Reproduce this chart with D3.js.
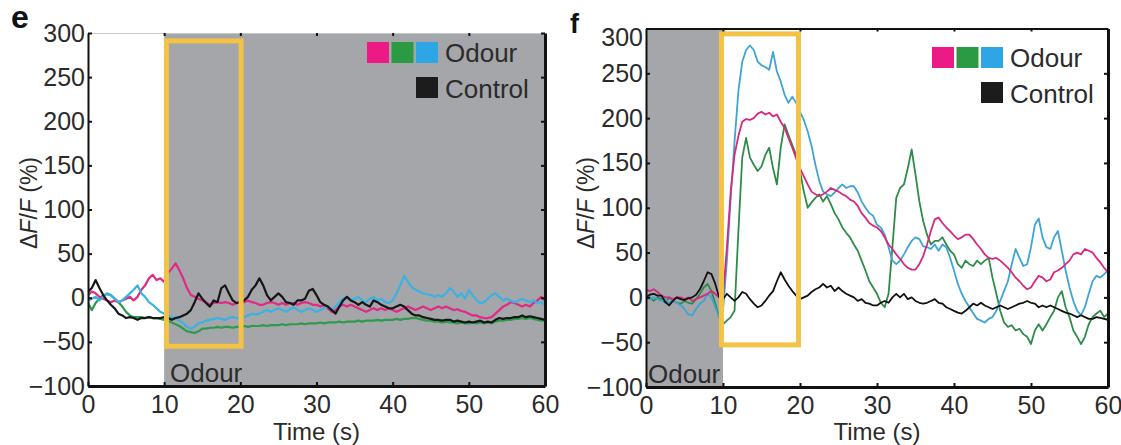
<!DOCTYPE html>
<html>
<head>
<meta charset="utf-8">
<script src="https://cdn.jsdelivr.net/npm/d3@7"></script>
<style>
  body { margin: 0; background: #fff; }
  svg { display: block; font-family: "Liberation Sans", Arial, Helvetica, sans-serif; }
</style>
</head>
<body>
<svg id="chart" width="1121" height="445"></svg>
<script>
// sample times (s)
const time = [0,0.5,1,1.5,2,2.5,3,3.5,4,4.5,5,5.5,6,6.5,7,7.5,8,8.5,9,9.5,
  10,10.5,11,11.5,12,12.5,13,13.5,14,14.5,15,15.5,16,16.5,17,17.5,18,18.5,19,19.5,
  20,20.5,21,21.5,22,22.5,23,23.5,24,24.5,25,25.5,26,26.5,27,27.5,28,28.5,29,29.5,
  30,30.5,31,31.5,32,32.5,33,33.5,34,34.5,35,35.5,36,36.5,37,37.5,38,38.5,39,39.5,
  40,40.5,41,41.5,42,42.5,43,43.5,44,44.5,45,45.5,46,46.5,47,47.5,48,48.5,49,49.5,
  50,50.5,51,51.5,52,52.5,53,53.5,54,54.5,55,55.5,56,56.5,57,57.5,58,58.5,59,59.5,60];

// panel e, dF/F (%)
const eControl = [7,11,20,11,3,-3,-8,-12,-18,-20,-23,-22,-23,-25,-23,-23,-22,-23,-23,-23,
  -22,-23,-25,-23,-22,-20,-18,-14,-5,5,-1,-6,-10,-3,-5,11,14,5,-3,-6,
  -5,-3,1,9,14,22,14,3,-3,1,5,1,-5,-6,-8,-3,-3,-1,8,10,
  3,-5,-8,-10,-14,-18,-10,-3,1,-3,-5,-8,-5,-8,-10,-3,-5,-8,-10,-12,
  -12,-10,-8,-10,-14,-18,-20,-20,-22,-23,-24,-25,-25,-26,-25,-25,-27,-26,-27,-28,
  -27,-28,-27,-26,-28,-27,-28,-25,-23,-24,-23,-23,-22,-22,-20,-22,-21,-22,-23,-24,-25];
const ePink = [3,7,5,1,-1,-3,-5,-3,-5,-3,-1,1,-3,1,9,14,22,26,20,22,
  18,28,33,39,31,22,11,3,1,-1,-3,-5,-8,-6,-5,-6,-5,-6,-8,-6,
  -5,-5,-3,-5,-6,-8,-8,-6,-5,-6,-8,-6,-8,-6,-6,-8,-6,-5,-6,-8,
  -8,-10,-8,-12,-16,-14,-10,-8,-10,-8,-10,-12,-14,-16,-14,-12,-14,-12,-14,-12,
  -14,-16,-14,-12,-10,-12,-14,-12,-10,-12,-14,-12,-10,-12,-10,-12,-14,-13,-15,-16,
  -18,-20,-20,-22,-23,-23,-22,-18,-14,-10,-8,-5,-6,-8,-10,-8,-10,-6,-3,1,-3];
const eGreen = [-6,-14,-6,-1,3,4,3,-1,-5,-10,-16,-20,-22,-22,-22,-23,-22,-23,-23,-24,
  -25,-26,-28,-30,-32,-35,-38,-39,-40,-38,-35,-35,-34,-34,-33,-34,-33,-33,-34,-33,
  -33,-32,-33,-32,-32,-32,-31,-32,-31,-31,-31,-30,-31,-30,-30,-30,-29,-30,-29,-29,
  -29,-28,-29,-28,-28,-28,-27,-28,-27,-27,-27,-26,-27,-26,-26,-26,-25,-26,-25,-25,
  -25,-24,-25,-24,-24,-23,-23,-24,-25,-26,-26,-27,-27,-28,-27,-28,-28,-29,-28,-29,
  -29,-28,-29,-28,-29,-28,-29,-27,-26,-26,-25,-25,-24,-24,-23,-24,-23,-24,-25,-26,-26];
const eBlue = [-3,-1,1,-3,1,5,3,-1,-5,-3,1,5,9,14,5,1,-5,-8,-12,-16,
  -18,-20,-22,-23,-26,-29,-33,-35,-33,-29,-28,-26,-25,-24,-23,-24,-25,-23,-22,-23,
  -23,-22,-20,-18,-19,-18,-16,-14,-16,-14,-12,-14,-16,-13,-11,-14,-16,-14,-12,-14,
  -16,-14,-12,-10,-14,-10,-5,-1,1,-3,-1,1,-3,-5,-1,1,-3,-1,-5,-6,
  -3,5,14,25,18,12,9,7,5,4,3,1,3,1,5,11,7,1,5,-1,
  9,3,-3,-6,-5,-1,3,5,1,-3,-1,-3,-5,-3,-1,-3,-5,-3,-6,-5,-8];

// panel f, dF/F (%)
const fControl = [0,3,4,2,2,-5,-9,-4,0,-2,-3,-1,0,3,9,18,28,26,15,0,
  -2,4,0,-4,0,6,4,-2,-7,-11,-9,-4,2,7,18,28,20,13,7,2,
  -2,0,2,6,9,11,15,11,13,7,11,7,4,2,0,-4,-2,-6,-7,-9,
  -9,-6,-4,-6,0,4,0,4,-2,0,-4,-6,-7,-6,-4,-2,-6,-7,-11,-13,
  -15,-17,-18,-15,-11,-7,-9,-6,-9,-11,-13,-11,-9,-11,-13,-11,-9,-7,-6,-4,
  -6,-7,-11,-9,-11,-9,-11,-13,-15,-17,-18,-20,-22,-20,-22,-24,-24,-22,-23,-24,-25];
const fPink = [9,7,9,6,2,0,0,-2,0,0,-2,0,-4,-2,0,2,4,7,4,0,
  2,55,118,159,180,196,199,198,200,205,207,204,206,202,204,196,189,178,167,155,
  144,135,126,118,115,113,115,118,122,120,118,115,113,109,107,102,94,89,83,80,
  78,74,67,59,54,48,43,37,33,31,31,37,46,59,74,87,89,83,78,74,
  69,65,67,70,70,65,59,54,48,44,43,44,41,37,33,28,22,18,13,9,
  11,18,24,22,18,20,28,30,33,37,41,48,50,48,54,52,50,44,39,33,28];
const fGreen = [-2,0,-4,0,-2,-6,0,-4,-6,-7,-4,-6,-7,-2,4,11,15,7,-7,-22,
  -30,-26,-22,-15,74,156,178,156,148,141,146,159,167,144,126,167,193,181,170,159,
  141,118,100,106,111,115,107,113,104,94,87,78,72,67,59,52,41,30,18,11,
  4,-6,-11,4,56,111,122,126,144,165,137,107,85,70,59,63,63,67,59,52,
  48,37,33,41,37,35,41,37,41,44,22,4,-15,-28,-33,-31,-37,-35,-41,-44,
  -52,-37,-30,-37,-30,-22,-15,0,7,-11,-22,-37,-44,-52,-44,-30,-22,-18,-15,-22,-18];
const fBlue = [0,-2,0,-2,-4,-2,-6,-4,-6,-9,-13,-19,-20,-13,-7,-4,4,0,-11,-22,
  -15,40,111,174,230,263,276,281,276,263,259,257,254,274,252,241,226,217,224,217,
  207,198,185,169,148,130,118,115,113,117,122,126,122,124,124,117,107,100,94,91,
  81,78,70,56,41,37,41,48,56,63,67,65,57,56,54,59,52,59,56,44,
  30,15,4,-4,-11,-18,-24,-26,-28,-24,-22,-15,-4,7,18,37,54,44,35,37,
  56,81,88,67,56,54,67,74,52,30,11,-4,-15,-20,-11,4,18,24,22,26,30];

const yTicks = [-100, -50, 0, 50, 100, 150, 200, 250, 300];
const xTicks = [0, 10, 20, 30, 40, 50, 60];
const odourColors = ['#ec1a85', '#2a9a45', '#2ea6e6'];
const controlColor = '#1c1c1c';
const odourLabel = 'Odour';
const controlLabel = 'Control';

const shade = '#a4a6a9';
const boxColor = '#f4c244';
const textColor = '#2b2b2b';

const svg = d3.select('#chart');

const panels = [
  {
    id: 'e', left: 88, right: 545, top: 33, bottom: 386,
    shaded: [10, 60], box: [10.3, 20.1, -55, 291],
    lines: [[eGreen, '#2f9a4c'], [ePink, '#e02a84'], [eBlue, '#3ab2e2'], [eControl, '#161616']],
    lineWidth: 2.2, topColor: '#c9c9c9',
    letterX: 11, letterY: 28, letterSize: 32, titleX: 37, odourX: 170,
    legendX: 367, legendY: 42, topLabelShift: 0
  },
  {
    id: 'f', left: 646, right: 1108, top: 28.5, bottom: 387,
    shaded: [0, 10], box: [9.8, 19.8, -53, 294],
    lines: [[fGreen, '#2e8c48'], [fBlue, '#3ea4d8'], [fPink, '#d8287e'], [fControl, '#111111']],
    lineWidth: 1.8, topColor: '#111',
    letterX: 570, letterY: 33, letterSize: 27, titleX: 594, odourX: 648,
    legendX: 932, legendY: 47, topLabelShift: 8.5
  }
];

panels.forEach(p => {
  const x = d3.scaleLinear().domain([0, 60]).range([p.left, p.right]);
  const y = d3.scaleLinear().domain([-100, 300]).range([p.bottom, p.top]);
  const g = svg.append('g').attr('class', `panel panel-${p.id}`);

  g.append('clipPath').attr('id', `clip-${p.id}`)
    .append('rect')
    .attr('x', x(0)).attr('y', y(300))
    .attr('width', x(60) - x(0)).attr('height', y(-100) - y(300));

  // odour period
  g.append('rect')
    .attr('x', x(p.shaded[0])).attr('y', y(300))
    .attr('width', x(p.shaded[1]) - x(p.shaded[0]))
    .attr('height', y(-100) - y(300))
    .attr('fill', shade);

  // traces
  const line = d3.line().x((d, i) => x(time[i])).y(d => y(d));
  const traces = g.append('g').attr('clip-path', `url(#clip-${p.id})`);
  p.lines.forEach(([values, color]) => {
    traces.append('path')
      .datum(values)
      .attr('d', line)
      .attr('fill', 'none')
      .attr('stroke', color)
      .attr('stroke-width', p.lineWidth)
      .attr('stroke-linejoin', 'round');
  });

  // highlight window
  g.append('rect')
    .attr('x', x(p.box[0])).attr('y', y(p.box[3]))
    .attr('width', x(p.box[1]) - x(p.box[0]))
    .attr('height', y(p.box[2]) - y(p.box[3]))
    .attr('fill', 'none')
    .attr('stroke', boxColor)
    .attr('stroke-width', 5);

  // axes
  const top = g.append('g')
    .attr('transform', `translate(0,${y(300)})`)
    .call(d3.axisTop(x).tickValues([10, 20, 30, 40, 50]).tickSize(-3).tickSizeOuter(0).tickFormat(''));
  top.select('.domain').attr('stroke', p.topColor).attr('stroke-width', p.id === 'e' ? 1 : 2);
  top.selectAll('.tick line').attr('stroke', '#111').attr('stroke-width', 2);

  const right = g.append('g')
    .attr('transform', `translate(${x(60)},0)`)
    .call(d3.axisRight(y).tickValues(yTicks).tickSize(-4).tickSizeOuter(0).tickFormat(''));
  right.select('.domain').attr('stroke', '#111').attr('stroke-width', 3);
  right.selectAll('.tick line').attr('stroke', '#111').attr('stroke-width', 2);

  const left = g.append('g')
    .attr('transform', `translate(${x(0)},0)`)
    .call(d3.axisLeft(y).tickValues(yTicks).tickSize(-4).tickSizeOuter(0).tickPadding(3));
  left.select('.domain').attr('stroke', '#111').attr('stroke-width', 2);
  left.selectAll('.tick line').attr('stroke', '#111').attr('stroke-width', 2);
  left.selectAll('.tick text')
    .attr('fill', textColor).attr('font-size', 25).attr('font-family', null)
    .attr('dy', d => d === 300 ? `${0.32 * 25 + p.topLabelShift}px` : '0.32em');

  const bottom = g.append('g')
    .attr('transform', `translate(0,${y(-100)})`)
    .call(d3.axisBottom(x).tickValues(xTicks).tickSize(-4).tickSizeOuter(0).tickPadding(9));
  bottom.select('.domain').attr('stroke', '#111').attr('stroke-width', 3);
  bottom.selectAll('.tick line').attr('stroke', '#111').attr('stroke-width', 2);
  bottom.selectAll('.tick text')
    .attr('fill', textColor).attr('font-size', 25).attr('font-family', null);

  // axis titles
  g.append('text')
    .attr('x', (x(0) + x(60)) / 2).attr('y', 440)
    .attr('text-anchor', 'middle')
    .attr('font-size', 24).attr('fill', textColor)
    .text('Time (s)');

  const yt = g.append('text')
    .attr('transform', `translate(${p.titleX},203) rotate(-90)`)
    .attr('text-anchor', 'middle')
    .attr('font-size', 23).attr('fill', textColor);
  yt.append('tspan').text('Δ');
  yt.append('tspan').attr('font-style', 'italic').text('F');
  yt.append('tspan').text('/');
  yt.append('tspan').attr('font-style', 'italic').text('F');
  yt.append('tspan').text(' (%)');

  // odour label in the shaded period
  g.append('text')
    .attr('x', p.odourX).attr('y', y(-100) - 4)
    .attr('font-size', 26).attr('fill', textColor)
    .text(odourLabel);

  // panel letter
  g.append('text')
    .attr('x', p.letterX).attr('y', p.letterY)
    .attr('font-size', p.letterSize).attr('font-weight', 'bold').attr('fill', '#111')
    .text(p.id);

  // legend
  const lg = g.append('g').attr('transform', `translate(${p.legendX},${p.legendY})`);
  lg.selectAll('rect.odour')
    .data(odourColors)
    .join('rect')
    .attr('class', 'odour')
    .attr('x', (d, i) => i * 24.5).attr('y', 0)
    .attr('width', 22).attr('height', 21)
    .attr('fill', d => d);
  lg.append('text').attr('x', 78).attr('y', 20)
    .attr('font-size', 26).attr('fill', textColor).text(odourLabel);
  lg.append('rect').attr('x', 49).attr('y', 35)
    .attr('width', 22).attr('height', 21).attr('fill', controlColor);
  lg.append('text').attr('x', 78).attr('y', 56)
    .attr('font-size', 26).attr('fill', textColor).text(controlLabel);
});
</script>
</body>
</html>
